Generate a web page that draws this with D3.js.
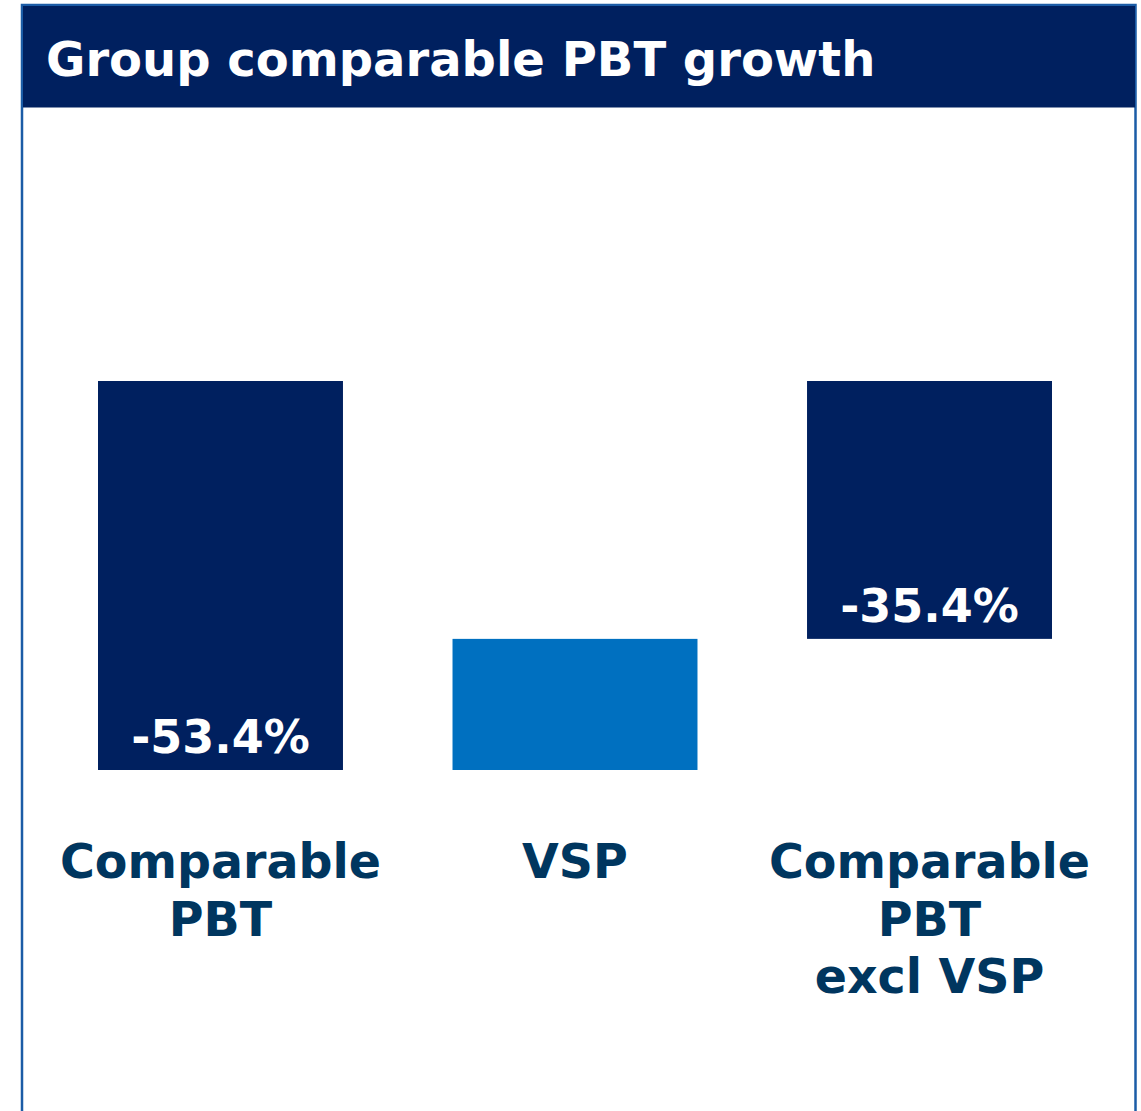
<!DOCTYPE html>
<html>
<head>
<meta charset="utf-8">
<script src="https://cdn.jsdelivr.net/npm/d3@7"></script>
<style>
	body { margin: 0; background: #fff; }
	svg { display: block; font-family: "DejaVu Sans", Verdana, sans-serif; font-weight: bold; }
</style>
</head>
<body>
<svg id="chart"></svg>
<script>

// chart data
var title = 'Group comparable PBT growth';
var categories = ['Comparable PBT', 'VSP', 'Comparable PBT excl VSP'];
var labelLines = [['Comparable', 'PBT'], ['VSP'], ['Comparable', 'PBT', 'excl VSP']];
var changes = [-53.4, 18.0, -35.4];
var kinds = ['total', 'step', 'total'];
var valueLabels = ['-53.4%', '', '-35.4%'];

var width = 1141, height = 1111;

var svg = d3.select('#chart')
	.attr('width', width)
	.attr('height', height);

// waterfall: totals start at 0, steps start at the previous total
var bars = [];
var running = 0;
categories.forEach(function(c, i) {
	var start = kinds[i] === 'total' ? 0 : running;
	var end = kinds[i] === 'total' ? changes[i] : running + changes[i];
	running = end;
	bars.push({ category: c, start: start, end: end, kind: kinds[i], label: valueLabels[i], lines: labelLines[i] });
});

var xScale = d3.scaleBand()
	.domain(categories)
	.range([98, 1052])
	.paddingInner(0.309)
	.paddingOuter(0);

var yScale = d3.scaleLinear()
	.domain([0, -53.4])
	.range([381, 770]);

// frame
svg.append('rect')
	.attr('x', 22).attr('y', 5)
	.attr('width', 1113.5).attr('height', 1120)
	.attr('fill', 'none')
	.attr('stroke', '#1b5ca6')
	.attr('stroke-width', 2.5);

// title bar
svg.append('rect')
	.attr('x', 23).attr('y', 6)
	.attr('width', 1112).attr('height', 101.5)
	.attr('fill', '#00205f');

svg.append('text')
	.attr('x', 46).attr('y', 76)
	.attr('fill', '#fff')
	.attr('font-size', 48)
	.text(title);

// bars
svg.selectAll('.bar')
	.data(bars)
	.enter().append('rect')
	.attr('class', 'bar')
	.attr('x', function(d) { return xScale(d.category); })
	.attr('width', xScale.bandwidth())
	.attr('y', function(d) { return Math.min(yScale(d.start), yScale(d.end)); })
	.attr('height', function(d) { return Math.abs(yScale(d.end) - yScale(d.start)); })
	.attr('fill', function(d) { return d.kind === 'total' ? '#00205f' : '#0070c0'; });

// value labels inside bar bottoms
svg.selectAll('.value')
	.data(bars.filter(function(d) { return d.label; }))
	.enter().append('text')
	.attr('class', 'value')
	.attr('x', function(d) { return xScale(d.category) + xScale.bandwidth() / 2; })
	.attr('y', function(d) { return yScale(d.end) - 17; })
	.attr('text-anchor', 'middle')
	.attr('fill', '#fff')
	.attr('font-size', 46)
	.text(function(d) { return d.label; });

// category labels
var cat = svg.selectAll('.cat')
	.data(bars)
	.enter().append('text')
	.attr('class', 'cat')
	.attr('text-anchor', 'middle')
	.attr('fill', '#00365f')
	.attr('font-size', 47.5);

cat.selectAll('tspan')
	.data(function(d) { return d.lines.map(function(l) { return { line: l, x: xScale(d.category) + xScale.bandwidth() / 2 }; }); })
	.enter().append('tspan')
	.attr('x', function(d) { return d.x; })
	.attr('y', function(d, i) { return 878 + i * 57.5; })
	.text(function(d) { return d.line; });

</script>
</body>
</html>
